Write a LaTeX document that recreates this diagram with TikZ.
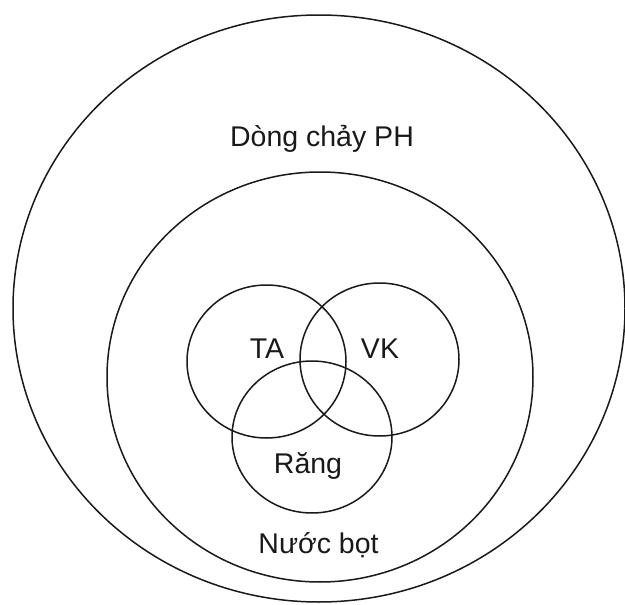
\documentclass[tikz,border=0pt]{standalone}
\usepackage{fontspec}
\setmainfont{Liberation Sans}
\usetikzlibrary{shapes.geometric}
\begin{document}
\begin{tikzpicture}[x=1pt,y=-1pt,
  ring/.style={draw=black!90, line width=1.5pt, ellipse, inner sep=0pt, fill=none},
  lbl/.style={anchor=base, inner sep=0pt, font=\fontsize{28.5}{33}\selectfont, text=black!90}]
\useasboundingbox (0,0) rectangle (625,605);
\node[ring, minimum width=612pt, minimum height=587pt] (outer) at (319,308.5) {};
\node[ring, minimum width=426pt, minimum height=410pt] (saliva) at (320,377) {};
\node[ring, minimum width=159pt, minimum height=153pt] (ta) at (266.5,361.5) {};
\node[ring, minimum width=159pt, minimum height=153pt] (vk) at (379.5,359.5) {};
\node[ring, minimum width=160pt, minimum height=152pt] (rang) at (312,437) {};
\node[lbl] (lph) at (322,146) {Dòng chảy PH};
\node[lbl] (lnb) at (318.5,553) {Nước bọt};
\node[lbl] (lta) at (267,358) {TA};
\node[lbl] (lvk) at (380,358) {VK};
\node[lbl] (lrang) at (308,473) {Răng};
\end{tikzpicture}
\end{document}
